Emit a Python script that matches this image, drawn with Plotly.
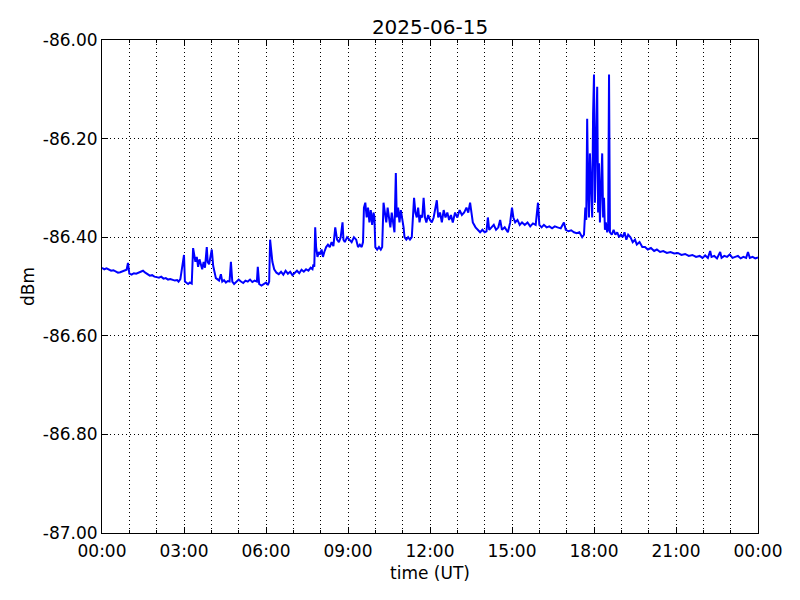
import pandas as pd
import plotly.graph_objects as go

title_text = "2025-06-15"
x_label = "time (UT)"
y_label = "dBm"

# minutes after 00:00 UT
minutes = [
    0, 5, 10, 15, 20, 25, 30, 35, 40, 45,
    50, 54, 57, 60, 65, 70, 75, 80, 85, 90,
    95, 100, 105, 110, 115, 120, 125, 130, 135, 140,
    145, 150, 155, 160, 165, 168, 172, 175, 177, 180,
    182, 185, 189, 193, 197, 200, 202, 205, 208, 211,
    214, 217, 220, 223, 226, 230, 232, 235, 238, 241,
    244, 247, 250, 253, 257, 261, 264, 268, 272, 276,
    280, 283, 286, 290, 295, 300, 305, 310, 315, 320,
    325, 330, 335, 340, 342, 345, 350, 355, 360, 364,
    367, 369, 371, 374, 378, 383, 388, 393, 398, 403,
    408, 413, 418, 423, 428, 433, 438, 443, 448, 453,
    458, 462, 464, 466, 468, 470, 473, 476, 479, 482,
    485, 488, 492, 496, 500, 504, 508, 512, 516, 520,
    524, 528, 530, 533, 538, 543, 548, 553, 558, 562,
    566, 570, 573, 575, 578, 581, 584, 587, 590, 593,
    596, 598, 600, 604, 608, 612, 615, 618, 621, 624,
    627, 630, 633, 636, 639, 642, 645, 647, 650, 653,
    656, 659, 662, 664, 668, 672, 676, 680, 685, 688,
    691, 694, 697, 700, 703, 706, 709, 712, 716, 720,
    724, 728, 735, 738, 742, 746, 750, 754, 758, 762,
    766, 770, 775, 780, 785, 790, 795, 800, 804, 808,
    812, 814, 820, 825, 830, 835, 840, 844, 847, 850,
    855, 860, 865, 870, 874, 878, 884, 891, 896, 900,
    903, 907, 912, 917, 922, 928, 934, 940, 946, 952,
    957, 960, 965, 970, 976, 982, 988, 994, 1000, 1007,
    1014, 1018, 1024, 1030, 1036, 1042, 1048, 1054, 1058, 1061,
    1063, 1065, 1067, 1069, 1071, 1073, 1076, 1078, 1080, 1082,
    1084, 1087, 1089, 1091, 1093, 1095, 1098, 1100, 1102, 1104,
    1106, 1109, 1111, 1113, 1115, 1119, 1123, 1127, 1131, 1135,
    1139, 1143, 1147, 1151, 1155, 1160, 1165, 1170, 1174, 1180,
    1186, 1192, 1198, 1205, 1212, 1218, 1225, 1232, 1240, 1248,
    1256, 1264, 1272, 1280, 1288, 1296, 1304, 1312, 1318, 1324,
    1330, 1335, 1338, 1344, 1350, 1357, 1360, 1366, 1372, 1378,
    1384, 1390, 1396, 1402, 1408, 1414, 1418, 1422, 1428, 1434,
    1440,
]

dbm = [
    -86.462, -86.465, -86.463, -86.466, -86.468, -86.467, -86.470, -86.472, -86.471, -86.469,
    -86.467, -86.466, -86.452, -86.474, -86.476, -86.473, -86.474, -86.472, -86.470, -86.468,
    -86.472, -86.475, -86.478, -86.477, -86.480, -86.481, -86.482, -86.480, -86.484, -86.483,
    -86.486, -86.485, -86.487, -86.488, -86.487, -86.490, -86.485, -86.468, -86.455, -86.436,
    -86.490, -86.493, -86.495, -86.492, -86.494, -86.422, -86.435, -86.450, -86.440, -86.460,
    -86.445, -86.455, -86.465, -86.450, -86.462, -86.420, -86.450, -86.455, -86.440, -86.425,
    -86.458, -86.470, -86.483, -86.485, -86.488, -86.475, -86.490, -86.487, -86.492, -86.489,
    -86.490, -86.450, -86.490, -86.495, -86.490, -86.486, -86.490, -86.493, -86.488, -86.490,
    -86.486, -86.491, -86.488, -86.490, -86.460, -86.495, -86.498, -86.495, -86.492, -86.497,
    -86.490, -86.405, -86.420, -86.450, -86.465, -86.472, -86.475, -86.470, -86.476, -86.468,
    -86.474, -86.470, -86.477, -86.472, -86.468, -86.473, -86.466, -86.470, -86.465, -86.468,
    -86.462, -86.465, -86.455, -86.460, -86.380, -86.420, -86.440, -86.430, -86.435, -86.425,
    -86.440, -86.430, -86.420, -86.415, -86.420, -86.410, -86.418, -86.380, -86.405, -86.410,
    -86.400, -86.370, -86.405, -86.410, -86.400, -86.405, -86.410, -86.400, -86.405, -86.420,
    -86.415, -86.420, -86.410, -86.340, -86.330, -86.360, -86.340, -86.370, -86.345, -86.375,
    -86.350, -86.360, -86.420, -86.425, -86.420, -86.425, -86.420, -86.330, -86.350, -86.370,
    -86.340, -86.360, -86.380, -86.350, -86.370, -86.390, -86.270, -86.360, -86.340, -86.370,
    -86.345, -86.360, -86.380, -86.400, -86.405, -86.400, -86.405, -86.400, -86.320, -86.350,
    -86.360, -86.340, -86.370, -86.355, -86.360, -86.320, -86.360, -86.370, -86.355, -86.365,
    -86.370, -86.360, -86.325, -86.360, -86.350, -86.370, -86.345, -86.360, -86.350, -86.365,
    -86.355, -86.370, -86.350, -86.360, -86.345, -86.355, -86.350, -86.340, -86.350, -86.330,
    -86.360, -86.370, -86.380, -86.385, -86.390, -86.385, -86.390, -86.388, -86.360, -86.385,
    -86.380, -86.375, -86.385, -86.380, -86.365, -86.385, -86.380, -86.390, -86.370, -86.340,
    -86.360, -86.370, -86.365, -86.375, -86.370, -86.375, -86.370, -86.378, -86.372, -86.375,
    -86.330, -86.375, -86.380, -86.375, -86.380, -86.378, -86.382, -86.378, -86.380, -86.382,
    -86.370, -86.385, -86.388, -86.386, -86.390, -86.392, -86.390, -86.400, -86.395, -86.340,
    -86.365, -86.160, -86.300, -86.360, -86.230, -86.300, -86.360, -86.150, -86.070, -86.330,
    -86.200, -86.095, -86.350, -86.250, -86.370, -86.300, -86.230, -86.360, -86.320, -86.385,
    -86.370, -86.390, -86.385, -86.070, -86.390, -86.395, -86.385, -86.395, -86.390, -86.400,
    -86.395, -86.400, -86.390, -86.405, -86.395, -86.400, -86.410, -86.405, -86.415, -86.410,
    -86.420, -86.420, -86.425, -86.422, -86.428, -86.425, -86.430, -86.428, -86.432, -86.430,
    -86.433, -86.432, -86.436, -86.434, -86.438, -86.436, -86.440, -86.438, -86.442, -86.437,
    -86.442, -86.428, -86.440, -86.438, -86.443, -86.430, -86.442, -86.438, -86.440, -86.435,
    -86.442, -86.440, -86.438, -86.443, -86.440, -86.442, -86.430, -86.442, -86.440, -86.443,
    -86.441,
]

y_ticks = [-87.0, -86.8, -86.6, -86.4, -86.2, -86.0]
y_tick_labels = ["-87.00", "-86.80", "-86.60", "-86.40", "-86.20", "-86.00"]

day_start = "2025-06-15 00:00"
day_end = "2025-06-16 00:00"

assert len(minutes) == len(dbm), (len(minutes), len(dbm))
times = pd.Timestamp(day_start) + pd.to_timedelta(minutes, unit="m")

FONT = "DejaVu Sans"
W, H = 792, 592  # page body adds an 8px offset

fig = go.Figure()
fig.add_trace(go.Scatter(
    x=times, y=dbm, mode="lines",
    line=dict(color="#0000ff", width=2),
    showlegend=False,
))

grid_kw = dict(showgrid=True, gridcolor="black", gridwidth=1, griddash="1px,3px")

fig.update_layout(
    width=W, height=H,
    margin=dict(l=94, r=42, t=32, b=67, autoexpand=False),
    paper_bgcolor="white", plot_bgcolor="white",
    font=dict(family=FONT, size=17, color="black"),
    title=dict(text=title_text, x=0.5, xref="paper", xanchor="center",
               y=1 - 19 / H, yref="container", yanchor="middle",
               automargin=False,
               font=dict(family=FONT, size=20, color="black")),
)

fig.update_xaxes(
    type="date", range=[day_start, day_end], automargin=False,
    tick0=day_start, dtick=3 * 3600 * 1000, tickformat="%H:%M",
    ticks="inside", ticklen=6, tickcolor="black", ticklabelstandoff=3,
    showline=True, linecolor="black", linewidth=1, mirror="ticks",
    tickfont=dict(size=17),
    title=dict(text=x_label, font=dict(size=17), standoff=6),
    minor=dict(dtick=3600 * 1000, ticks="inside", ticklen=3, tickcolor="black",
               showgrid=True, gridcolor="black", gridwidth=1, griddash="1px,3px"),
    zeroline=False,
    **grid_kw,
)

fig.update_yaxes(
    range=[-87, -86], automargin=False,
    tickmode="array", tickvals=y_ticks, ticktext=y_tick_labels,
    ticks="inside", ticklen=6, tickcolor="black",
    showline=True, linecolor="black", linewidth=1, mirror="ticks",
    tickfont=dict(size=17),
    title=dict(text=y_label, font=dict(size=17), standoff=3),
    zeroline=False,
    **grid_kw,
)

fig.write_html("out.html")
